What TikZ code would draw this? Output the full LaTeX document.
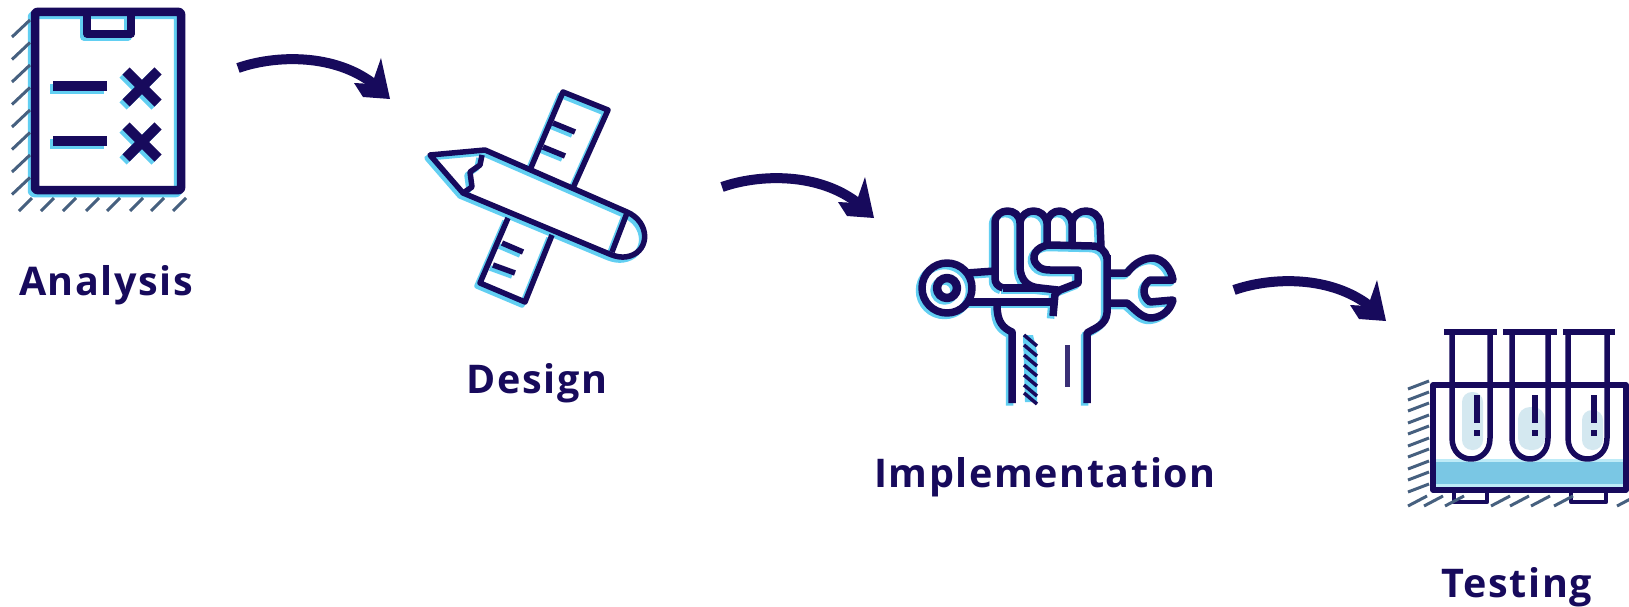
\documentclass[tikz,border=0pt]{standalone}
\usepackage{fontspec}
\setmainfont{Open Sans}
\newfontfamily\labelfont[LetterSpace=4]{Open Sans}
\definecolor{navy}{HTML}{170A5C}
\definecolor{aqua}{HTML}{62CFF2}
\definecolor{slate}{HTML}{46607F}
\definecolor{pool}{HTML}{7AC7E4}
\definecolor{poolhi}{HTML}{BDEBF7}
\definecolor{pale}{HTML}{D4E8F0}
\tikzset{
  ink/.style={draw=navy,line width=7.5pt,line join=round,line cap=butt},
  fine/.style={ink,line width=5.5pt},
  hatchline/.style={draw=slate,line width=3pt},
  label/.style={anchor=base,text=navy,inner sep=0pt,font=\fontsize{39.5}{46}\labelfont\bfseries},
  flowline/.style={draw=navy,line width=10pt},
  flowhead/.style={fill=navy,draw=none}
}
% icons; each path set is drawn twice, first as the aqua offset copy
\newcommand{\iconClip}{%
  \draw[ink,line width=8.5pt,rounded corners=2pt] (35,12) rectangle (181,190);
  \draw[ink] (87,12) -- (87,34) -- (131,34) -- (131,12);
  \draw[ink,line width=10pt] (53,86) -- (107,86);
  \draw[ink,line width=10pt] (53,141) -- (107,141);
  \draw[ink,line width=10pt] (126,71) -- (158,103) (158,71) -- (126,103);
  \draw[ink,line width=10pt] (126,126) -- (158,158) (158,126) -- (126,158);
}
\newcommand{\iconDesign}{%
  \draw[fine] (430,155) -- (485,150) -- (627,212) .. controls (650,222) and (650,250) .. (630,256) .. controls (620,259) and (612,255) .. (607,253) -- (463,193) -- cycle;
  \draw[fine] (627,213) -- (612,252);
  \draw[fine] (482,155) -- (480,165) -- (470,172) -- (472,187) -- (463,193);
  \draw[fine] (530,170) -- (563,92) -- (608,110) -- (573,188);
  \draw[fine] (553,123) -- (575,132) (543,147) -- (565,156);
  \draw[fine] (508,218) -- (480,283) -- (525,302) -- (552,235);
  \draw[fine] (502,243) -- (523,252) (493,265) -- (515,273);
}
\newcommand{\iconFist}{%
  \draw[ink] (947,288) circle (25);
  \draw[ink,line width=8.5pt] (947,288) circle (10);
  \draw[ink] (967,273) -- (995,271);
  \draw[ink] (967,302) -- (1053,302);
  \draw[ink] (1105,273) -- (1127,273) .. controls (1135,262) and (1145,258) .. (1153,258) .. controls (1163,259) and (1171,268) .. (1173,280) -- (1150,280) .. controls (1142,285) and (1142,297) .. (1150,302) -- (1173,300) .. controls (1170,312) and (1160,318) .. (1150,318) .. controls (1140,317) and (1134,308) .. (1127,303) -- (1105,303);
  \draw[ink] (1003,288) .. controls (997,286) and (995,283) .. (995,278) -- (995,223) .. controls (995,207) and (1020,207) .. (1020,223) -- (1020,268) .. controls (1021,280) and (1027,287) .. (1040,288) -- (1058,290);
  \draw[ink] (1003,288) -- (1040,288);
  \draw[ink] (1020,223) .. controls (1022,207) and (1045,207) .. (1047,223) -- (1047,243);
  \draw[ink] (1047,223) .. controls (1049,207) and (1070,207) .. (1072,223) -- (1072,243);
  \draw[ink] (1072,223) .. controls (1074,207) and (1098,207) .. (1100,223) -- (1101,247);
  \draw[ink] (1107,258) .. controls (1105,250) and (1100,246) .. (1092,246) -- (1050,245) .. controls (1035,246) and (1030,258) .. (1037,265) .. controls (1040,269) and (1045,270) .. (1050,270) -- (1078,270) -- (1078,283) -- (1060,290) -- (1055,294) -- (1053,316);
  \draw[ink] (1107,255) -- (1107,313) .. controls (1106,325) and (1095,328) .. (1087,333) -- (1087,403);
  \draw[ink] (997,305) .. controls (997,322) and (1003,328) .. (1012,332) -- (1012,403);
}
\begin{document}
\begin{tikzpicture}[x=1pt,y=-1pt]
\useasboundingbox (0,0) rectangle (1629,607);
\fill[white] (0,0) rectangle (1629,607);

% ---- Analysis ----
\begin{scope}[shift={(-3,3)},ink/.append style={draw=aqua}]\iconClip\end{scope}
\iconClip
\foreach \y in {37,59.5,82,104.5,127,149.5,172,194.5}
  \draw[hatchline] (12,\y) -- ++(18,-17);
\foreach \x in {19,41,63,86,107,130,151,173}
  \draw[hatchline] (\x,211) -- ++(13,-13);
\node[label] (analysis) at (106,295) {Analysis};

% ---- Design ----
\begin{scope}[shift={(-3,3)},fine/.append style={draw=aqua}]\iconDesign\end{scope}
\iconDesign
\node[label] (design) at (537,393) {Design};

% ---- Implementation ----
\fill[aqua] (1023,335) -- (1033,335) -- (1037,352) -- (1037,402) -- (1025,402) -- cycle;
\begin{scope}[shift={(-2.5,2.5)},ink/.append style={draw=aqua}]\iconFist\end{scope}
\iconFist
\foreach \y in {335,345,355,365,375,385,393}
  \draw[navy,line width=3.5pt] (1024,\y) -- (1037,\y+11);
\draw[navy!85!white,line width=5pt] (1067,345) -- (1067,387);
\node[label] (implementation) at (1045,487) {Implementation};

% ---- Testing ----
\fill[poolhi] (1436,459) rectangle (1624,488);
\fill[pool] (1436,462) rectangle (1624,484);
\fill[pale,rounded corners=10pt] (1462,392) rectangle (1483,450);
\fill[pale,rounded corners=12pt] (1518,407) rectangle (1545,450);
\fill[pale,rounded corners=10pt] (1582,410) rectangle (1603,450);
\draw[ink,line width=5.5pt] (1433,385) rectangle (1626,490);
\draw[ink,line width=5.5pt] (1444,332) -- (1497,332) (1503,332) -- (1557,332) (1563,332) -- (1615,332);
\draw[ink,line width=5.5pt] (1452,332) -- (1452,438) .. controls (1452,466) and (1490,466) .. (1490,438) -- (1490,332);
\draw[ink,line width=5.5pt] (1512,332) -- (1512,438) .. controls (1512,466) and (1548,466) .. (1548,438) -- (1548,332);
\draw[ink,line width=5.5pt] (1568,332) -- (1568,438) .. controls (1568,466) and (1607,466) .. (1607,438) -- (1607,332);
\draw[ink,line width=6pt] (1477,395) -- (1477,423) (1477,430) -- (1477,436);
\draw[ink,line width=6pt] (1535,395) -- (1535,423) (1535,430) -- (1535,436);
\draw[ink,line width=6pt] (1594,395) -- (1594,423) (1594,430) -- (1594,436);
\draw[ink,line width=4.5pt] (1454,490) -- (1454,502) -- (1487,502) -- (1487,490);
\draw[ink,line width=4.5pt] (1571,490) -- (1571,502) -- (1606,502) -- (1606,490);
\foreach \y in {389,400,411,423,434,446,457,469,480,492}
  \draw[hatchline] (1408,\y) -- ++(21,-8);
\foreach \x in {1408,1424,1445,1491,1510,1531,1554,1617}
  \draw[hatchline] (\x,506) -- ++(19,-10);
\node[label] (testing) at (1517,597) {Testing};

% ---- connectors ----
\coordinate (a1s) at (238,68);  \coordinate (a1e) at (375,85);
\coordinate (a2s) at (722,187); \coordinate (a2e) at (859,204);
\coordinate (a3s) at (1234,290);\coordinate (a3e) at (1371,307);
\foreach \s/\e in {a1s/a1e,a2s/a2e,a3s/a3e}{
  \draw[flowline] (\s) .. controls ([shift={(37,-13)}]\s) and ([shift={(97,-15)}]\s) .. (\e);
  \fill[flowhead] ([shift={(6,-27)}]\e) -- ([shift={(15,14)}]\e) -- ([shift={(-12,12)}]\e) -- ([shift={(-21,-2)}]\e) -- ([shift={(-3,-1)}]\e) -- cycle;
}
\end{tikzpicture}
\end{document}
